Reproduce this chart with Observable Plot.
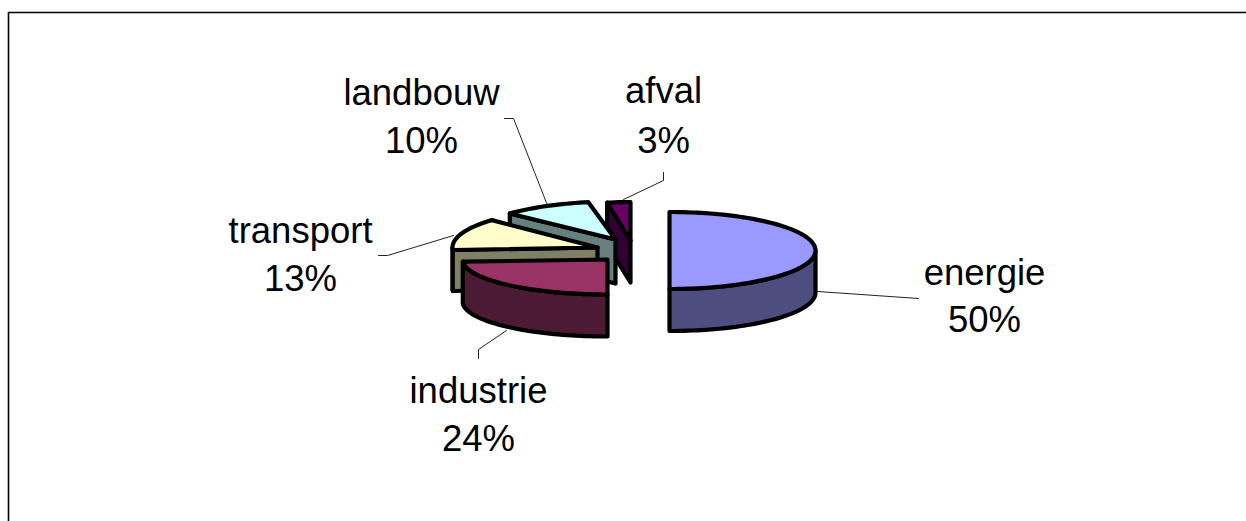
<!DOCTYPE html>
<html><head><meta charset="utf-8">
<script src="https://cdn.jsdelivr.net/npm/d3@7"></script>
<script src="https://cdn.jsdelivr.net/npm/@observablehq/plot@0.6"></script>
<style>html,body{margin:0;background:#fff}svg{display:block}</style>
</head><body><div id="chart"></div>
<script>
const categories = ["energie","industrie","transport","landbouw","afval"];
const shares = [50,24,13,10,3];
const topColors = ["#9999FF","#993366","#FFFFCC","#CCFFFF","#660066"];
const wallColors = ["#4D4D80","#4D1A33","#808066","#668080","#330033"];

// layout of the exploded, tilted slices
const centerX = [669,607,597,615,630];
const centerY = [250,259,247,239,240];
const radiusX = [146,145,145,145,125];
const radiusY = [38.5,35,40,38,38.5];
const depth = [42,42,41,44,42];
const drawOrder = [4,3,2,1,0];

const labelX = [984,478,300,421,663];
const labelY = [273,391,231,93,91];
const valueY = [320,439,279,141,141];
const leaders = [
  [[817,291],[918,298]],
  [[506,330],[478,349],[478,358]],
  [[453,235],[387,255],[378,255]],
  [[547,205],[513,118],[504,118]],
  [[623,199],[663,180],[663,172]]
];

const starts = d3.cumsum([0,...shares]);
const pt = (i,p,dy=0)=>{
  const a = p/100*2*Math.PI;
  return {x:centerX[i]+radiusX[i]*Math.sin(a), y:centerY[i]-radiusY[i]*Math.cos(a)+dy};
};
const rim = (i,from,to,dy=0)=>{
  const n = Math.max(2,Math.ceil(Math.abs(to-from)*2)), r=[];
  for(let k=0;k<=n;k++) r.push(pt(i,from+(to-from)*k/n,dy));
  return r;
};
const marks = [];
const poly = (points,fill)=>marks.push(Plot.line([...points,points[0],points[1]],{
  x:"x",y:"y",fill,stroke:"#000",strokeWidth:4.2,strokeLinejoin:"round",strokeLinecap:"round"}));

for(const i of drawOrder){
  const s=starts[i], e=starts[i+1], c={x:centerX[i],y:centerY[i]}, cd={x:c.x,y:c.y+depth[i]};
  // outer curved wall, where the rim faces the viewer (25%..75%)
  const ws=Math.max(s,25), we=Math.min(e,75);
  if(we>ws) poly([...rim(i,ws,we),...rim(i,ws,we,depth[i]).reverse()],wallColors[i]);
  // radial wall on the end edge that faces the viewer
  if(s>50) poly([c,pt(i,s),pt(i,s,depth[i]),cd],wallColors[i]);
  // top face
  poly([c,...rim(i,s,e)],topColors[i]);
}

const lineFor = (i)=>leaders[i].map(([x,y])=>({x,y}));
categories.forEach((_,i)=>marks.push(Plot.line(lineFor(i),{x:"x",y:"y",stroke:"#222",strokeWidth:1})));

marks.push(Plot.ruleX([8],{y1:12,y2:521,stroke:"#000",strokeWidth:1.6}));
marks.push(Plot.ruleY([12],{x1:8,x2:1246,stroke:"#000",strokeWidth:1.6}));

const textOpts = {fontFamily:"Liberation Sans, Arial, sans-serif",fontSize:36.5,fill:"#000",textAnchor:"middle"};
marks.push(Plot.text(categories,{x:(d,i)=>labelX[i],y:(d,i)=>labelY[i],text:d=>d,...textOpts}));
marks.push(Plot.text(shares,{x:(d,i)=>labelX[i],y:(d,i)=>valueY[i],text:d=>d+"%",...textOpts}));

document.getElementById("chart").append(Plot.plot({
  width:1246,height:521,margin:0,
  x:{domain:[0,1246],range:[0,1246],axis:null},
  y:{domain:[0,521],range:[0,521],axis:null},
  style:{background:"#fff"},
  marks
}));
</script></body></html>
